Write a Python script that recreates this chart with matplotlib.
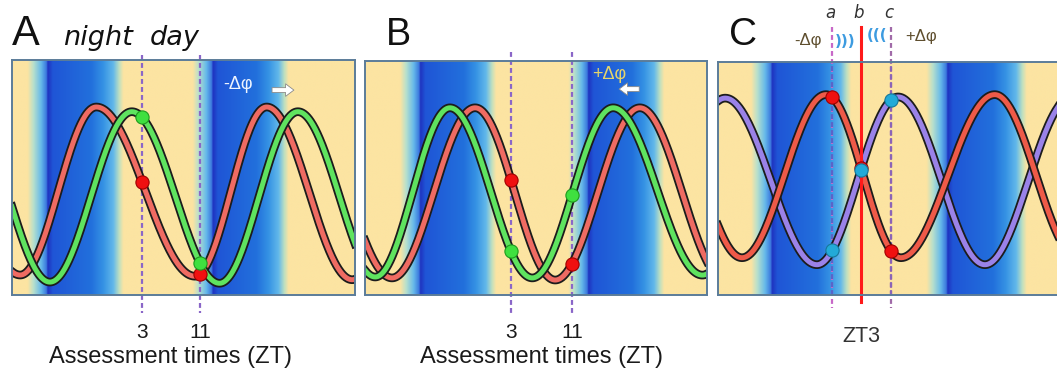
import numpy as np
import matplotlib.pyplot as plt
from matplotlib.colors import to_rgb

plt.rcParams['font.family'] = ['Liberation Sans', 'DejaVu Sans']

W, H = 1057, 371

# x = ZT hours, y = relative level (0-100)
# Panel A
a_xlim = (-14.93, 32.38)
a_night = [-10.0, 12.8, 36.0]
a_cycle = 23.2
a_red_t = [-26.2, -13.8, -3.3, 10.3, 20.2, 32.0, 42.7]
a_red_l = [80, 8.5, 80, 8, 80, 6.5, 80]
a_green_t = [-21.0, -9.7, 1.6, 13.7, 24.5, 36.0]
a_green_l = [78, 5.5, 78, 5, 78, 5.5]
assess_zt = [3, 11]

# Panel B
b_xlim = (-16.14, 28.71)
b_night = [-8.9, 13.1, 35.1]
b_cycle = 22.0
b_red_t = [-24.0, -12.6, -1.7, 8.8, 19.9, 31.1]
b_red_l = [80, 7.3, 80, 6.4, 80, 6.4]
b_green_t = [-25.3, -14.8, -5.0, 5.8, 16.4, 28.1, 38.9]
b_green_l = [80, 7.7, 80, 7.3, 80, 8.5, 80]

# Panel C
c_xlim = (-17.43, 31.43)
c_night = [-9.7, 15.4, 40.5]
c_cycle = 25.1
c_red_t = [-25.7, -14.0, -2.0, 8.7, 22.1, 34.0]
c_red_l = [86, 16, 86, 16, 86, 16]
c_purple_t = [-28.6, -16.4, -3.3, 8.3, 20.7, 33.1]
c_purple_l = [13, 84.5, 13, 85, 13, 85]
c_sample_zt = [-1.1, 3.0, 7.3]
c_sample_names = ['a', 'b', 'c']

# light/dark background profile (fraction of cycle from dark onset)
bg_pos = [-0.12, -0.085, -0.04, -0.008, 0.0, 0.03, 0.26, 0.33, 0.39, 0.425, 0.45]
bg_col = ['#fce4a2', '#b8e0cc', '#66b9ea', '#3b78de', '#1f33c0', '#1f55d6',
          '#2270dc', '#3592e4', '#62b8ea', '#bfe0c0', '#fce4a2']


def wave(x, t, l):
    t = np.asarray(t, float)
    l = np.asarray(l, float)
    x = np.asarray(x, float)
    i = np.clip(np.searchsorted(t, x) - 1, 0, len(t) - 2)
    f = (x - t[i]) / (t[i + 1] - t[i])
    return l[i] + (l[i + 1] - l[i]) * (1 - np.cos(np.pi * f)) / 2


def background(ax, xlim, nights, cycle):
    x = np.linspace(xlim[0], xlim[1], 1500)
    cols = np.array([to_rgb(c) for c in bg_col])
    rgb = np.tile(cols[0], (x.size, 1))
    for n in nights:
        f = (x - n) / cycle
        m = (f >= bg_pos[0]) & (f <= bg_pos[-1])
        for k in range(3):
            rgb[m, k] = np.interp(f[m], bg_pos, cols[:, k])
    ax.imshow(rgb[None, :, :], extent=[xlim[0], xlim[1], 0, 100],
              aspect='auto', interpolation='bilinear', zorder=0)


def band(ax, xlim, t, l, color, z):
    x = np.linspace(xlim[0], xlim[1], 800)
    y = wave(x, t, l)
    ax.plot(x, y, color='#1c1c1c', lw=6.2, zorder=z)
    ax.plot(x, y, color=color, lw=3.6, zorder=z + 0.1)


def panel(left, right, top, bottom, xlim):
    ax = fig.add_axes([left / W, 1 - bottom / H, (right - left) / W, (bottom - top) / H])
    ax.set_xlim(*xlim)
    ax.set_ylim(0, 100)
    ax.set_xticks([])
    ax.set_yticks([])
    for s in ax.spines.values():
        s.set_color('#5b7c99')
        s.set_linewidth(1.4)
        s.set_zorder(10)
    return ax


fig = plt.figure(figsize=(W / 100, H / 100), dpi=100)

# ---------------- Panel A ----------------
axA = panel(12, 355, 60, 295, a_xlim)
background(axA, a_xlim, a_night, a_cycle)
for zt in assess_zt:
    axA.plot([zt, zt], [102, -7.7], color='#8a66c8', lw=1.6,
             ls=(0, (2.2, 1.4)), clip_on=False, zorder=1)
    axA.text(zt, -18.3, str(zt), ha='center', va='baseline', fontsize=15, color='#1a1a1a')
band(axA, a_xlim, a_red_t, a_red_l, '#ef6b62', 2)
band(axA, a_xlim, a_green_t, a_green_l, '#5fe35f', 3)
axA.plot(assess_zt, wave(assess_zt, a_red_t, a_red_l), 'o', ms=9.5,
         mfc='#f01010', mec='#a00000', mew=0.8, zorder=6)
axA.plot(assess_zt, wave(assess_zt, a_green_t, a_green_l), 'o', ms=9.5,
         mfc='#3fe03f', mec='#1e9a1e', mew=0.8, zorder=7)
axA.text(np.mean(assess_zt), -29, 'Assessment times (ZT)', ha='center', va='baseline',
         fontsize=17, color='#1a1a1a')
axA.text(0.659, 0.894, '-\u0394\u03c6', transform=axA.transAxes, ha='center', va='center',
         fontsize=13, color='#eef4ff', zorder=8)
axA.annotate('', xy=(0.83, 0.872), xytext=(0.75, 0.872), xycoords='axes fraction',
             arrowprops=dict(arrowstyle='simple,head_width=0.9,head_length=0.6,tail_width=0.35',
                             fc='white', ec='#8a8a8a', lw=0.6), zorder=8)
fig.text(12 / W, 1 - 45 / H, 'A', fontsize=30, va='baseline', color='#111111')
fig.text(63 / W, 1 - 45 / H, 'night', fontsize=19.5, style='italic', family='DejaVu Sans',
         va='baseline', color='#111111')
fig.text(150 / W, 1 - 45 / H, 'day', fontsize=19.5, style='italic', family='DejaVu Sans',
         va='baseline', color='#111111')

# ---------------- Panel B ----------------
axB = panel(365, 707, 61, 295, b_xlim)
background(axB, b_xlim, b_night, b_cycle)
for zt in assess_zt:
    axB.plot([zt, zt], [103.8, -7.7], color='#8a66c8', lw=1.6,
             ls=(0, (2.2, 1.4)), clip_on=False, zorder=1)
    axB.text(zt, -18.3, str(zt), ha='center', va='baseline', fontsize=15, color='#1a1a1a')
band(axB, b_xlim, b_red_t, b_red_l, '#ef6b62', 2)
band(axB, b_xlim, b_green_t, b_green_l, '#5fe35f', 3)
axB.plot(assess_zt, wave(assess_zt, b_red_t, b_red_l), 'o', ms=9.5,
         mfc='#f01010', mec='#a00000', mew=0.8, zorder=6)
axB.plot(assess_zt, wave(assess_zt, b_green_t, b_green_l), 'o', ms=9.5,
         mfc='#3fe03f', mec='#1e9a1e', mew=0.8, zorder=7)
axB.text(np.mean(assess_zt), -29, 'Assessment times (ZT)', ha='center', va='baseline',
         fontsize=17, color='#1a1a1a')
axB.text(0.713, 0.944, '+\u0394\u03c6', transform=axB.transAxes, ha='center', va='center',
         fontsize=13, color='#e6d46a', zorder=8)
axB.annotate('', xy=(0.735, 0.88), xytext=(0.81, 0.88), xycoords='axes fraction',
             arrowprops=dict(arrowstyle='simple,head_width=0.9,head_length=0.6,tail_width=0.35',
                             fc='white', ec='#8a8a8a', lw=0.6), zorder=8)
fig.text(386 / W, 1 - 45 / H, 'B', fontsize=27, va='baseline', color='#111111')

# ---------------- Panel C ----------------
axC = panel(718, 1060, 62, 295, c_xlim)
background(axC, c_xlim, c_night, c_cycle)
line_out = ['#c868c8', None, '#a06aa8']
line_in = ['#5a64c8', None, '#8a64b8']
for k, zt in enumerate(c_sample_zt):
    if c_sample_names[k] == 'b':
        axC.plot([zt, zt], [115, -3], color='#ff1a1a', lw=2.2, clip_on=False, zorder=4)
        axC.text(zt, -20.2, 'ZT3', ha='center', va='baseline', fontsize=15.5, color='#333333')
    else:
        axC.plot([zt, zt], [115, -5.6], color=line_out[k], lw=1.6,
                 ls=(0, (2.2, 1.4)), clip_on=False, zorder=1)
        axC.plot([zt, zt], [0, 100], color=line_in[k], lw=1.6,
                 ls=(0, (2.2, 1.4)), zorder=1.5)
    axC.text(zt - 0.3, 118.9, c_sample_names[k], ha='center', va='baseline', fontsize=12,
             style='italic', family='DejaVu Sans', color='#333333')
band(axC, c_xlim, c_purple_t, c_purple_l, '#9a82e8', 2)
band(axC, c_xlim, c_red_t, c_red_l, '#ee5a48', 3)
axC.plot(c_sample_zt, wave(c_sample_zt, c_red_t, c_red_l), 'o', ms=9.5,
         mfc='#f01010', mec='#a00000', mew=0.8, zorder=6)
axC.plot(c_sample_zt, wave(c_sample_zt, c_purple_t, c_purple_l), 'o', ms=9.5,
         mfc='#22aad8', mec='#16789a', mew=0.8, zorder=7)
fig.text(729 / W, 1 - 45 / H, 'C', fontsize=28, va='baseline', color='#111111')
fig.text(808 / W, 1 - 41 / H, '-\u0394\u03c6', fontsize=12, ha='center', va='center', color='#5e4e2e')
fig.text(845 / W, 1 - 41 / H, ')))', fontsize=11, ha='center', va='center',
         color='#3d9be0', fontweight='bold', family='DejaVu Sans')
fig.text(877 / W, 1 - 36 / H, '(((', fontsize=11, ha='center', va='center',
         color='#3d9be0', fontweight='bold', family='DejaVu Sans')
fig.text(921 / W, 1 - 37 / H, '+\u0394\u03c6', fontsize=12, ha='center', va='center', color='#5e4e2e')

fig.savefig('out.png', dpi=100)
plt.close()
